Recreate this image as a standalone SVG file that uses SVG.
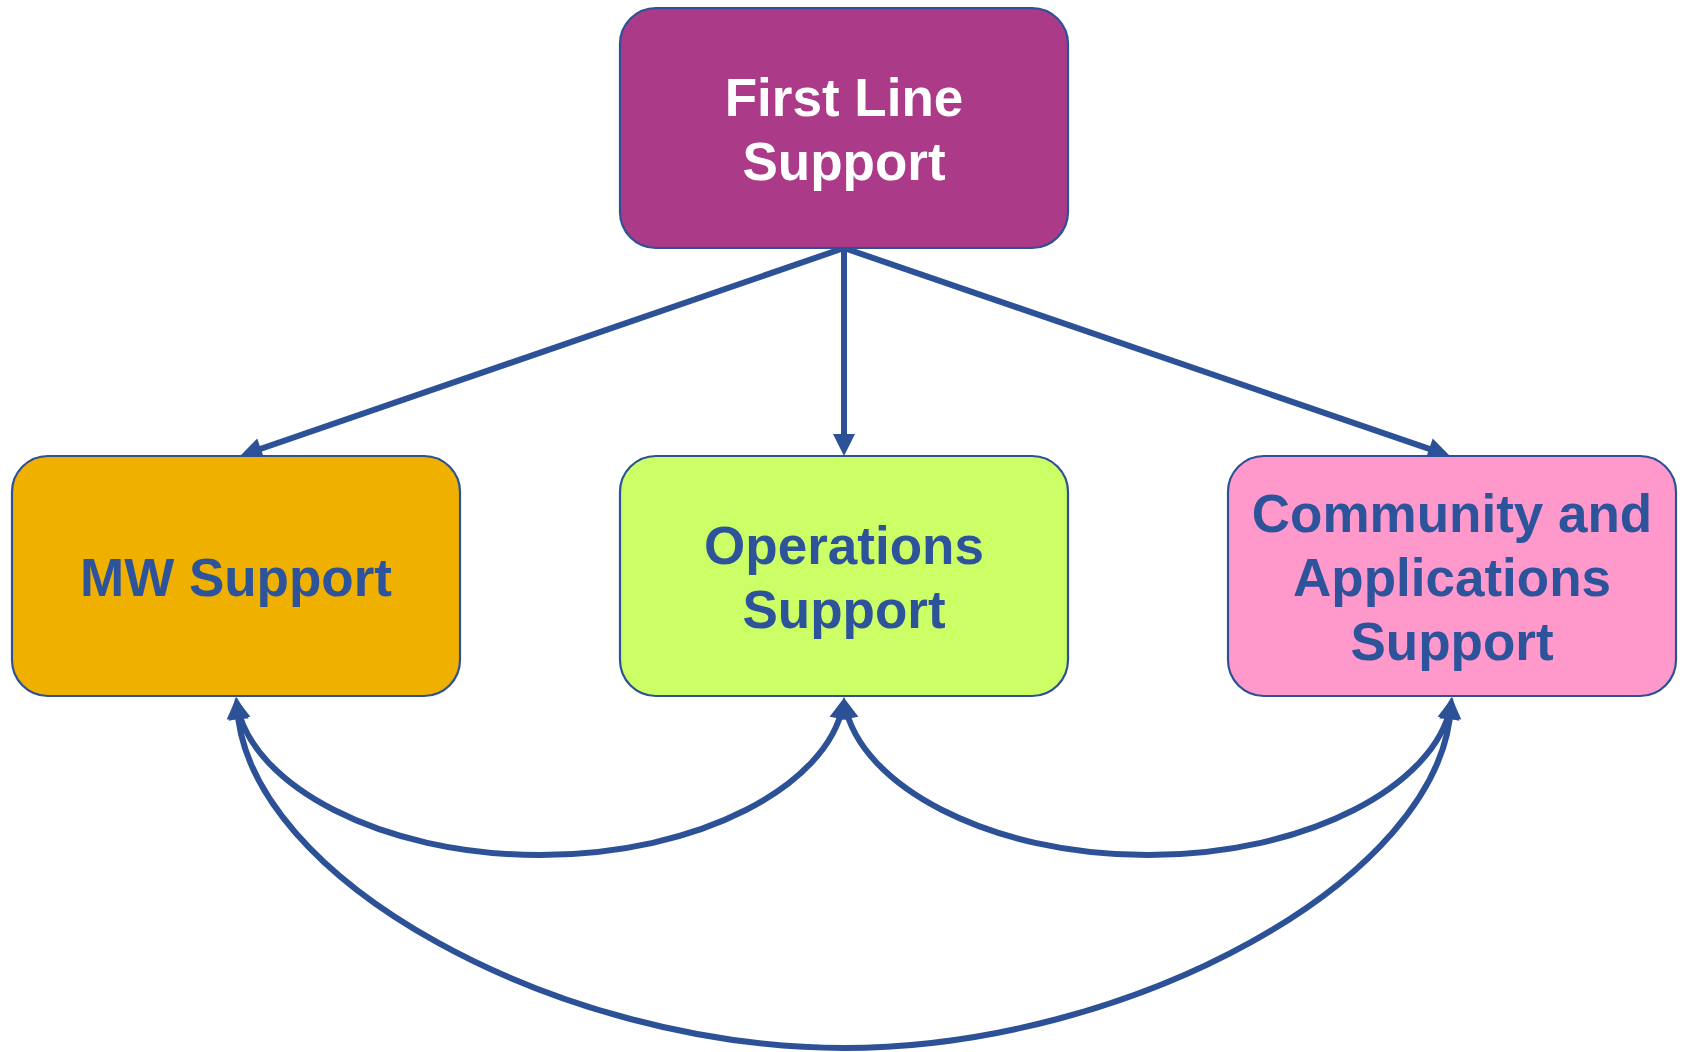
<svg xmlns="http://www.w3.org/2000/svg" width="1683" height="1052" viewBox="0 0 1683 1052">
<style>
.box{stroke:#2c5197;stroke-width:2.2}
.lbl{font-family:"Liberation Sans",Arial,sans-serif;font-weight:bold;font-size:53px;text-anchor:middle;fill:#2d539b}
.white{fill:#ffffff}
.conn{fill:none;stroke:#2c5197;stroke-width:6}
</style>
<defs>
<marker id="ah" markerUnits="userSpaceOnUse" markerWidth="24" markerHeight="24" refX="14" refY="11" orient="auto-start-reverse" overflow="visible">
<path d="M0,0 L22,11 L0,22 z" fill="#2c5197"/>
</marker>
</defs>
<rect width="1683" height="1052" fill="#ffffff"/>
<g id="connectors">
<path class="conn" d="M844,248 L247.6,453.4" marker-end="url(#ah)"/>
<path class="conn" d="M844,248 L844,448" marker-end="url(#ah)"/>
<path class="conn" d="M844,248 L1442.4,453.4" marker-end="url(#ah)"/>
<path class="conn" d="M237,705 C252,785 380,855 540,855 C700,855 828,785 843,705" marker-start="url(#ah)" marker-end="url(#ah)"/>
<path class="conn" d="M845,705 C860,785 988,855 1148,855 C1308,855 1436,785 1451,705" marker-start="url(#ah)" marker-end="url(#ah)"/>
<path class="conn" d="M237,705 C245,880 560,1048 844,1048 C1128,1048 1443,880 1451,705" marker-start="url(#ah)" marker-end="url(#ah)"/>
</g>
<g id="first-line">
<rect class="box" x="620" y="8" width="448" height="240" rx="36" fill="#ab3a88"/>
<text class="lbl white" x="844" y="116">First Line</text>
<text class="lbl white" x="844" y="180">Support</text>
</g>
<g id="mw-support">
<rect class="box" x="12" y="456" width="448" height="240" rx="36" fill="#f0b000"/>
<text class="lbl" x="236" y="596">MW Support</text>
</g>
<g id="operations-support">
<rect class="box" x="620" y="456" width="448" height="240" rx="36" fill="#ccff66"/>
<text class="lbl" x="844" y="564">Operations</text>
<text class="lbl" x="844" y="628">Support</text>
</g>
<g id="community-support">
<rect class="box" x="1228" y="456" width="448" height="240" rx="36" fill="#ff99cc"/>
<text class="lbl" x="1452" y="532">Community and</text>
<text class="lbl" x="1452" y="596">Applications</text>
<text class="lbl" x="1452" y="660">Support</text>
</g>
</svg>
